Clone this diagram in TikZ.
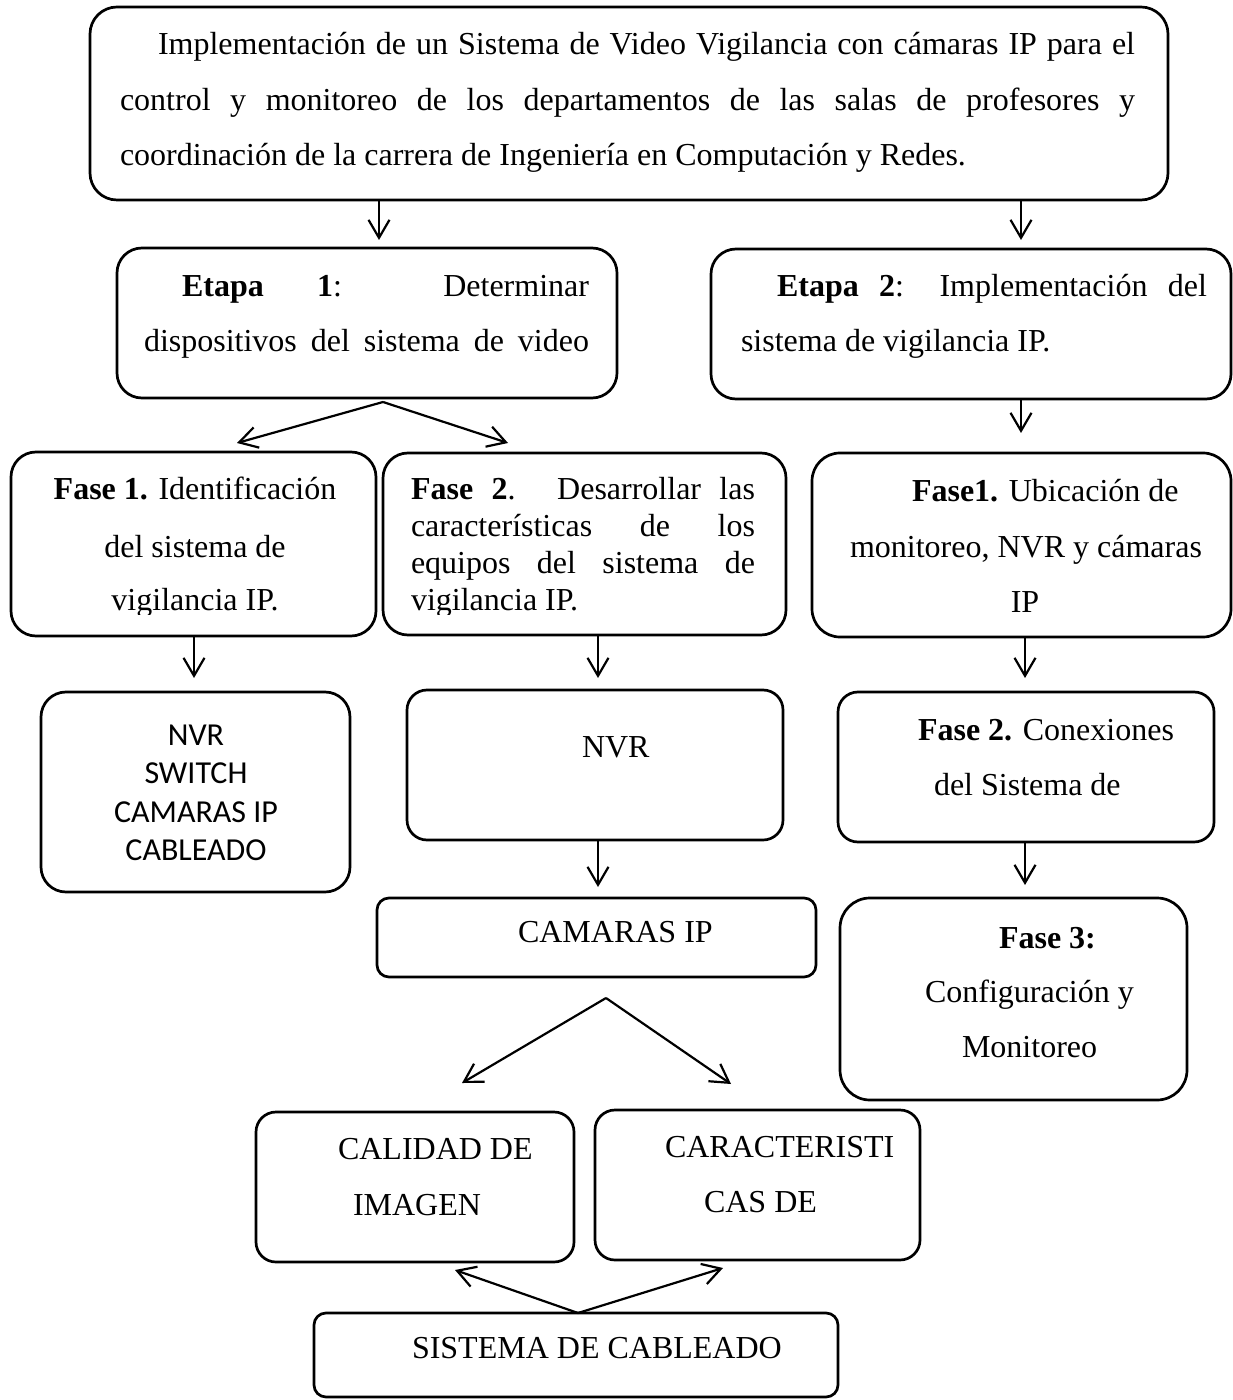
\documentclass[tikz,border=0pt]{standalone}
\usepackage{fontspec}
\setmainfont{Liberation Serif}
\newfontfamily\calfont{Carlito}
\usetikzlibrary{arrows.meta,fit}
\tikzset{
  x=0.5pt, y=-0.5pt,
  box/.style={draw, line width=1.35pt, inner sep=0pt, outer sep=0pt},
  tx/.style={anchor=base west, inner sep=0pt, outer sep=0pt, font=\fontsize{16}{19}\selectfont},
  txc/.style={tx, anchor=base},
  cl/.style={anchor=base, inner sep=0pt, outer sep=0pt, font=\calfont\fontsize{16}{19}\selectfont},
  arr/.style={line width=1.1pt, -{Straight Barb[length=9pt,width=10.5pt]}},
}
\begin{document}
\begin{tikzpicture}
\fill[white] (0,0) rectangle (1232,1400);
\useasboundingbox (0,0) rectangle (1232,1400);

% boxes
\node[box, rounded corners=13.5pt, fit={(90,7) (1168,200)}] (top) {};
\node[box, rounded corners=12.5pt, fit={(117,248) (617,398)}] (e1) {};
\node[box, rounded corners=12.5pt, fit={(711,249) (1231,399)}] (e2) {};
\node[box, rounded corners=12.5pt, fit={(11,452) (376,636)}] (f1) {};
\node[box, rounded corners=12.5pt, fit={(383,453) (786,635)}] (f2) {};
\node[box, rounded corners=14pt, fit={(812,453) (1231,637)}] (g1) {};
\node[box, rounded corners=12.5pt, fit={(41,692) (350,892)}] (lst) {};
\node[box, rounded corners=10pt, fit={(407,690) (783,840)}] (nvr) {};
\node[box, rounded corners=10pt, fit={(838,692) (1214,842)}] (g2) {};
\node[box, rounded corners=6pt, fit={(377,898) (816,977)}] (cam) {};
\node[box, rounded corners=15pt, fit={(840,898) (1187,1100)}] (g3) {};
\node[box, rounded corners=10pt, fit={(256,1112) (574,1262)}] (cal) {};
\node[box, rounded corners=10pt, fit={(595,1110) (920,1260)}] (car) {};
\node[box, rounded corners=6pt, fit={(314,1313) (838,1397)}] (sis) {};

% texts: top box
\node[tx] (t1) at (158,55) {\makebox[488.5pt][s]{Implementación de un Sistema de Video Vigilancia con cámaras IP para el}};
\node[tx] (t2) at (120,111) {\makebox[507.5pt][s]{control y monitoreo de los departamentos de las salas de profesores y}};
\node[tx] (t3) at (120,166) {coordinación de la carrera de Ingeniería en Computación y Redes.};

% Etapa 1
\node[tx] (e1a) at (182,297) {\makebox[203.5pt][s]{\textbf{Etapa} \textbf{1}: Determinar}};
\node[tx] (e1b) at (144,352) {\makebox[222.5pt][s]{dispositivos del sistema de video}};
% Etapa 2
\node[tx] (e2a) at (777,297) {\makebox[215pt][s]{\textbf{Etapa} \textbf{2}: Implementación del}};
\node[tx] (e2b) at (741,352) {sistema de vigilancia IP.};

% Fase 1 / Fase 2
\node[txc] (f1a) at (195,500) {\textbf{Fase 1.} Identificación};
\node[txc] (f1b) at (195,557) {del sistema de};
\node[tx] (f2a) at (411,500) {\makebox[172pt][s]{\textbf{Fase} \textbf{2}. Desarrollar las}};
\node[tx] (f2b) at (411,537) {\makebox[172pt][s]{características de los}};
\node[tx] (f2c) at (411,573) {\makebox[172pt][s]{equipos del sistema de}};
\begin{scope}
\clip (0,0) rectangle (1232,614);
\node[txc] (f1c) at (195,610) {vigilancia IP.};
\node[tx] (f2d) at (411,610) {vigilancia IP.};
\end{scope}

% Fase1 right
\node[tx] (g1a) at (912,502) {\textbf{Fase1.} Ubicación de};
\node[tx] (g1b) at (850,557) {monitoreo, NVR y cámaras};
\node[txc] (g1c) at (1025,612) {IP};

% list box
\node[cl] (l1) at (196,745) {NVR};
\node[cl] (l2) at (196,783) {SWITCH};
\node[cl] (l3) at (196,822) {CAMARAS IP};
\node[cl] (l4) at (196,860) {CABLEADO};

\node[tx] (n1) at (582,757) {NVR};
\node[tx] (g2a) at (918,740) {\textbf{Fase 2.} Conexiones};
\node[tx] (g2b) at (934,795) {del Sistema de};
\node[tx] (c1) at (518,942) {CAMARAS IP};
\node[tx] (g3a) at (999,948) {\textbf{Fase 3:}};
\node[tx] (g3b) at (925,1002) {Configuración y};
\node[tx] (g3c) at (962,1057) {Monitoreo};
\node[tx] (ca1) at (338,1159) {CALIDAD DE};
\node[tx] (ca2) at (353,1215) {IMAGEN};
\node[tx] (cr1) at (665,1157) {CARACTERISTI};
\node[tx] (cr2) at (704,1212) {CAS DE};
\node[tx] (s1) at (412,1358) {SISTEMA DE CABLEADO};

% arrow end coordinates
\coordinate (p1) at (379,240);
\coordinate (p2) at (1021,240);
\coordinate (p3) at (237,443);
\coordinate (p4) at (508,443);
\coordinate (p5) at (1021,433);
\coordinate (p6) at (194,678);
\coordinate (p7) at (598,678);
\coordinate (p8) at (1025,678);
\coordinate (p9) at (598,887);
\coordinate (p10) at (1025,885);
\coordinate (p11) at (462,1083);
\coordinate (p12) at (731,1084);
\coordinate (p13) at (455,1270);
\coordinate (p14) at (723,1268);

% arrows
\draw[arr] (top.south west) ++(289,0) -- (p1);
\draw[arr] (top.south west) ++(931,0) -- (p2);
\draw[arr] (e1.south) ++(16,4) -- (p3);
\draw[arr] (e1.south) ++(16,4) -- (p4);
\draw[arr] (e2.south) ++(50,0) -- (p5);
\draw[arr] (f1.south) ++(0.5,0) -- (p6);
\draw[arr] (f2.south) ++(13.5,0) -- (p7);
\draw[arr] (g1.south) ++(3.5,0) -- (p8);
\draw[arr] (nvr.south) ++(3,0) -- (p9);
\draw[arr] (g2.south) ++(-1,0) -- (p10);
\draw[arr] (cam.south) ++(9.5,21) -- (p11);
\draw[arr] (cam.south) ++(9.5,21) -- (p12);
\draw[arr] (sis.north) ++(2,0) -- (p13);
\draw[arr] (sis.north) ++(2,0) -- (p14);
\end{tikzpicture}
\end{document}
